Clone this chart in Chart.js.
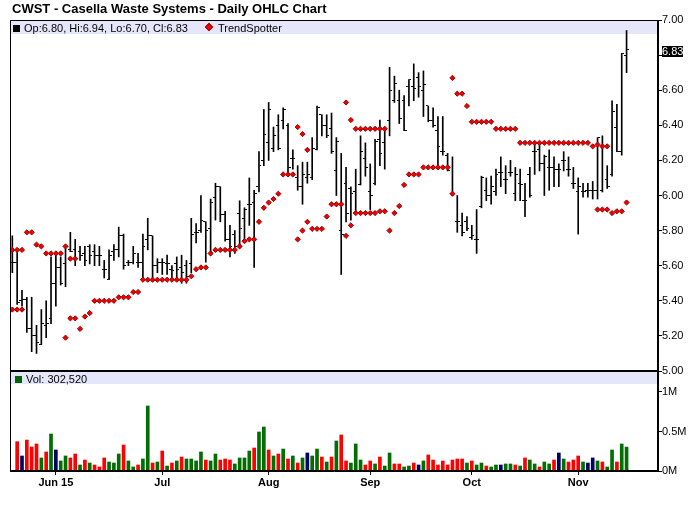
<!DOCTYPE html>
<html>
<head>
<meta charset="utf-8">
<script src="https://cdn.jsdelivr.net/npm/chart.js@4.4.0/dist/chart.umd.min.js"></script>
<style>
  body { margin: 0; width: 700px; height: 512px; background: #fff; position: relative; overflow: hidden;
         font-family: "Liberation Sans", Arial, sans-serif; color: #000; }
  #title { position: absolute; left: 12px; top: 1px; font-weight: bold; font-size: 13px; line-height: 16px; z-index: 3; }
  .band { position: absolute; left: 11px; width: 646px; background: #e6e6fa; z-index: 0; }
  #priceBand { top: 21px; height: 13px; }
  #volBand { top: 372px; height: 12px; }
  .leg { position: absolute; font-size: 11px; line-height: 12px; white-space: nowrap; z-index: 3; }
  .sq { display: inline-block; width: 7px; height: 7px; margin-right: 4px; vertical-align: 0; }
  .dia { display: inline-block; width: 4px; height: 4px; background: #e00; border: 1px solid #a00;
         transform: rotate(45deg); margin: 0 6px 1px 2px; vertical-align: 1px; }
  canvas { position: absolute; left: 0; z-index: 1; }
  #price { top: 0; }
  #vol { top: 371px; }
</style>
</head>
<body>
<div id="title">CWST - Casella Waste Systems - Daily OHLC Chart</div>
<div class="band" id="priceBand"></div>
<div class="band" id="volBand"></div>
<div class="leg" style="left:13px; top:22px;"><span class="sq" style="background:#000"></span>Op:6.80, Hi:6.94, Lo:6.70, Cl:6.83</div>
<div class="leg" style="left:204px; top:22px;"><span class="dia"></span>TrendSpotter</div>
<div class="leg" style="left:15px; top:373px;"><span class="sq" style="background:#006400; border:0"></span>Vol: 302,520</div>
<canvas id="price" width="700" height="380"></canvas>
<canvas id="vol" width="700" height="141"></canvas>
<script>
// daily bars, 18 May 2015 .. 16 Nov 2015 (index 0..127)
const opens = [
  5.62,5.62,5.40,5.41,5.24,5.20,5.15,5.26,5.30,5.50,
  5.59,5.61,5.69,5.69,5.68,5.67,5.71,5.68,5.66,5.58,
  5.52,5.68,5.69,5.77,5.62,5.62,5.62,5.62,5.75,5.77,
  5.60,5.62,5.61,5.58,5.61,5.59,5.60,5.61,5.79,5.80,
  5.85,5.81,5.99,6.05,5.89,5.75,5.78,5.90,5.87,5.95,
  5.96,6.05,6.20,6.30,6.27,6.40,6.43,6.40,6.21,6.10,
  6.05,6.10,6.10,6.26,6.46,6.40,6.38,6.14,5.80,6.07,
  6.04,6.02,6.06,6.21,6.02,6.07,6.32,6.30,6.43,6.54,
  6.54,6.54,6.62,6.62,6.67,6.60,6.51,6.43,6.37,6.25,
  6.23,6.01,5.85,5.83,5.85,5.76,5.75,5.94,6.03,6.00,
  6.02,6.13,6.09,6.13,6.01,6.07,5.97,6.12,6.25,6.26,
  6.18,6.16,6.16,6.15,6.20,6.15,6.07,6.02,6.02,6.03,
  6.03,6.03,6.03,6.09,6.12,6.39,6.25,6.80
];
const highs = [
  5.77,5.69,5.46,5.42,5.42,5.26,5.35,5.40,5.65,5.66,
  5.65,5.71,5.79,5.75,5.71,5.71,5.72,5.72,5.71,5.63,
  5.69,5.72,5.82,5.78,5.63,5.71,5.67,5.78,5.87,5.77,
  5.64,5.64,5.66,5.60,5.65,5.66,5.63,5.87,5.84,6.00,
  5.85,5.98,6.07,6.05,5.91,5.83,5.80,5.97,5.93,6.10,
  6.03,6.25,6.49,6.53,6.39,6.46,6.50,6.41,6.26,6.17,
  6.19,6.19,6.33,6.51,6.46,6.46,6.47,6.33,6.24,6.16,
  6.05,6.15,6.34,6.30,6.18,6.32,6.43,6.39,6.73,6.68,
  6.60,6.57,6.66,6.75,6.70,6.71,6.51,6.50,6.45,6.45,
  6.24,6.22,6.00,5.90,5.88,5.83,5.92,6.11,6.10,6.11,
  6.15,6.22,6.17,6.20,6.16,6.15,6.07,6.16,6.30,6.29,
  6.23,6.26,6.22,6.18,6.25,6.22,6.16,6.10,6.07,6.07,
  6.08,6.33,6.34,6.17,6.54,6.52,6.81,6.94
];
const lows = [
  5.56,5.38,5.37,5.22,5.11,5.10,5.15,5.19,5.27,5.37,
  5.49,5.48,5.68,5.60,5.63,5.60,5.61,5.60,5.60,5.53,
  5.52,5.63,5.65,5.58,5.60,5.61,5.59,5.53,5.69,5.52,
  5.56,5.55,5.55,5.52,5.52,5.50,5.50,5.56,5.73,5.79,
  5.62,5.66,5.86,5.85,5.74,5.65,5.67,5.71,5.75,5.83,
  5.59,6.02,6.17,6.20,6.25,6.26,6.38,6.12,6.15,6.03,
  5.95,6.07,6.09,6.26,6.34,6.33,6.24,6.00,5.55,5.85,
  5.86,5.90,6.06,6.11,5.92,6.06,6.17,6.15,6.34,6.53,
  6.41,6.37,6.51,6.54,6.56,6.45,6.42,6.39,6.16,6.23,
  6.14,6.00,5.79,5.77,5.80,5.75,5.67,5.93,5.97,5.95,
  6.00,6.05,6.01,6.11,5.97,5.97,5.88,5.99,6.12,6.14,
  6.00,6.03,6.05,6.05,6.14,6.11,6.04,5.78,5.99,5.99,
  5.98,5.98,6.02,6.04,6.11,6.25,6.23,6.70
];
const closes = [
  5.62,5.39,5.41,5.24,5.20,5.16,5.27,5.27,5.50,5.59,
  5.50,5.71,5.68,5.64,5.66,5.63,5.66,5.66,5.66,5.58,
  5.66,5.69,5.77,5.60,5.62,5.67,5.62,5.71,5.77,5.60,
  5.62,5.62,5.61,5.57,5.58,5.56,5.54,5.78,5.79,5.86,
  5.80,5.96,6.05,5.89,5.75,5.71,5.71,5.81,5.92,5.95,
  6.01,6.17,6.35,6.49,6.34,6.27,6.49,6.16,6.21,6.05,
  6.12,6.12,6.27,6.50,6.40,6.34,6.25,6.31,5.78,5.90,
  6.01,5.90,6.25,6.16,6.00,6.31,6.24,6.38,6.60,6.64,
  6.44,6.37,6.66,6.61,6.62,6.63,6.43,6.40,6.28,6.25,
  6.14,6.01,5.85,5.79,5.81,5.77,5.75,6.10,6.00,6.05,
  6.12,6.13,6.09,6.13,6.12,6.06,5.97,6.00,6.25,6.18,
  6.22,6.16,6.15,6.15,6.20,6.15,6.07,6.05,6.02,6.03,
  6.03,6.33,6.28,6.05,6.48,6.25,6.81,6.83
];
// TrendSpotter stops: upper (above price) and lower (below price)
const trendUpper = [
  5.69,5.69,5.69,5.79,5.79,5.72,5.71,5.67,5.67,5.67,
  5.67,5.71,5.64,5.64,null,null,null,null,null,null,
  null,null,null,null,null,null,null,null,null,null,
  null,null,null,null,null,null,null,null,null,null,
  null,null,null,null,null,null,null,null,null,null,
  null,null,null,null,null,null,null,null,null,6.39,
  6.35,6.26,null,null,null,null,null,null,null,6.53,
  6.43,6.38,6.38,6.38,6.38,6.38,6.38,6.38,null,null,
  null,null,null,null,null,null,null,null,null,null,
  null,6.67,6.58,6.58,6.51,6.42,6.42,6.42,6.42,6.42,
  6.38,6.38,6.38,6.38,6.38,6.30,6.30,6.30,6.30,6.30,
  6.30,6.30,6.30,6.30,6.30,6.30,6.30,6.30,6.30,6.30,
  6.28,6.29,6.28,6.28,null,null,null,null
];
const trendLower = [
  5.35,5.35,5.35,null,null,null,null,null,null,null,
  null,5.19,5.30,5.30,5.24,5.31,5.33,5.40,5.40,5.40,
  5.40,5.40,5.42,5.42,5.42,5.45,5.45,5.52,5.52,5.52,
  5.52,5.52,5.52,5.52,5.52,5.52,5.52,5.54,5.58,5.59,
  5.59,5.67,5.69,5.69,5.69,5.69,5.69,5.71,5.74,5.75,
  5.75,5.85,5.93,5.96,5.98,6.01,6.12,6.12,6.12,5.75,
  5.80,5.85,5.81,5.81,5.81,5.88,5.95,5.95,5.95,5.77,
  5.83,5.90,5.90,5.90,5.90,5.90,5.91,5.91,5.80,5.90,
  5.94,6.06,6.12,6.12,6.12,6.16,6.16,6.16,6.16,6.16,
  6.16,6.01,null,null,null,null,null,null,null,null,
  null,null,null,null,null,null,null,null,null,null,
  null,null,null,null,null,null,null,null,null,null,
  null,5.92,5.92,5.92,5.90,5.91,5.91,5.96
];
// volume in thousands of shares
const volumeK = [
  null,371,190,392,304,342,165,241,468,266,
  127,190,165,215,76,139,101,76,51,165,
  114,101,215,329,127,51,76,152,823,101,
  114,253,63,101,127,177,152,152,127,241,
  139,127,215,139,152,139,89,165,165,253,
  291,494,557,266,190,215,278,152,190,101,
  165,228,190,278,177,114,177,380,456,127,
  101,342,139,76,127,89,177,63,228,89,
  89,51,63,101,76,127,203,139,76,127,
  76,139,152,152,101,127,76,101,63,51,
  76,76,89,89,76,63,165,139,89,51,
  114,89,139,228,152,114,139,190,114,101,
  165,127,114,51,266,114,342,302.52
];
// u = up day, d = down day, n = unchanged
const volumeDir = ('x' +
  'dndddudunu' + 'uddududddu' + 'uuduuduudu' + 'dududuuuud' +
  'uuddduuuud' + 'uududududu' + 'nuudududdu' + 'uudduduudd' +
  'uudnuddddd' + 'ddduduuduu' + 'nuududuudu' + 'udnudddunn' +
  'uduuduu').split('');
const monthTickIdx = [9, 31, 53, 74, 95, 117];
const monthTickLabels = ['Jun 15', 'Jul', 'Aug', 'Sep', 'Oct', 'Nov'];

const xMin = -0.48, xMax = 133.5;
const idx = opens.map((_, i) => i);
const last = closes.length - 1;
const dirColor = { u: '#006e00', d: '#ff0000', n: '#000066', x: '#000' };
const axisFont = { family: 'Liberation Sans', size: 11 };

function tickImage(side) {
  const c = document.createElement('canvas');
  c.width = 5; c.height = 1;
  const g = c.getContext('2d');
  g.fillStyle = '#000';
  g.fillRect(side < 0 ? 0 : 3, 0, 2, 1);
  return c;
}

const framePlugin = {
  id: 'frame',
  afterDraw(chart) {
    const { ctx, chartArea: a } = chart;
    ctx.save();
    ctx.strokeStyle = '#000';
    ctx.lineWidth = 1;
    ctx.strokeRect(a.left + 0.5, a.top + 0.5, a.right - a.left - 1, a.bottom - a.top - 1);
    ctx.restore();
  }
};

const lastPricePlugin = {
  id: 'lastPrice',
  afterDraw(chart) {
    const { ctx, chartArea: a } = chart;
    const y = chart.scales.y.getPixelForValue(closes[last]);
    ctx.save();
    ctx.fillStyle = '#000';
    ctx.fillRect(a.right + 4, Math.round(y) - 4, 21, 11);
    ctx.fillStyle = '#fff';
    ctx.font = '11px "Liberation Sans"';
    ctx.textBaseline = 'middle';
    ctx.fillText(closes[last].toFixed(2), a.right + 4, Math.round(y) + 2);
    ctx.restore();
  }
};

const trendPoints = [];
idx.forEach(i => {
  if (trendUpper[i] != null) trendPoints.push({ x: i, y: trendUpper[i] });
  if (trendLower[i] != null) trendPoints.push({ x: i, y: trendLower[i] });
});

new Chart(document.getElementById('price'), {
  type: 'bar',
  data: {
    datasets: [
      {
        type: 'scatter',
        label: 'TrendSpotter',
        data: trendPoints,
        pointStyle: 'rectRot',
        pointRadius: 2.6,
        backgroundColor: '#ee0000',
        borderColor: '#a00000',
        borderWidth: 1,
        order: 0
      },
      {
        type: 'scatter',
        label: 'open',
        data: idx.map(i => ({ x: i, y: opens[i] })),
        pointStyle: tickImage(-1),
        pointRadius: 2,
        order: 1
      },
      {
        type: 'scatter',
        label: 'close',
        data: idx.map(i => ({ x: i, y: closes[i] })),
        pointStyle: tickImage(1),
        pointRadius: 2,
        order: 1
      },
      {
        type: 'bar',
        label: 'range',
        data: idx.map(i => ({ x: i, y: [lows[i], highs[i]] })),
        backgroundColor: '#000',
        barThickness: 1,
        grouped: false,
        order: 2
      }
    ]
  },
  options: {
    responsive: false,
    animation: false,
    devicePixelRatio: 1,
    layout: { padding: { left: 10, top: 20, right: 0, bottom: 9 } },
    plugins: { legend: { display: false }, tooltip: { enabled: false } },
    scales: {
      x: { type: 'linear', min: xMin, max: xMax, offset: false, display: false },
      y: {
        position: 'right',
        min: 5, max: 7,
        afterFit: s => { s.width = 42; },
        ticks: {
          stepSize: 0.2,
          padding: 0,
          color: '#000',
          font: axisFont,
          callback: v => Math.abs(v - closes[last]) < 0.05 ? '' : v.toFixed(2)
        },
        grid: { drawOnChartArea: false, drawTicks: true, tickLength: 4, color: '#000' },
        border: { color: '#000' }
      }
    }
  },
  plugins: [framePlugin, lastPricePlugin]
});

new Chart(document.getElementById('vol'), {
  type: 'bar',
  data: {
    datasets: [{
      label: 'Vol',
      data: idx.map(i => ({ x: i, y: volumeK[i] })),
      backgroundColor: idx.map(i => dirColor[volumeDir[i]]),
      barThickness: 3
    }]
  },
  options: {
    responsive: false,
    animation: false,
    devicePixelRatio: 1,
    layout: { padding: { left: 10, top: 0, right: 0, bottom: 0 } },
    plugins: { legend: { display: false }, tooltip: { enabled: false } },
    scales: {
      x: {
        type: 'linear', min: xMin, max: xMax, offset: false,
        afterFit: s => { s.height = 41; s.paddingLeft = 0; s.paddingRight = 0; },
        afterBuildTicks: s => { s.ticks = monthTickIdx.map(v => ({ value: v })); },
        ticks: {
          autoSkip: false, maxRotation: 0, padding: 1, color: '#000',
          font: { family: 'Liberation Sans', size: 11, weight: 'bold' },
          callback: (v, i) => monthTickLabels[i]
        },
        grid: { offset: false, drawOnChartArea: false, drawTicks: true, tickLength: 4, color: '#000' },
        border: { color: '#000' }
      },
      y: {
        position: 'right',
        min: 0, max: 1265.8,
        afterFit: s => { s.width = 42; s.paddingTop = 0; s.paddingBottom = 0; },
        afterBuildTicks: s => { s.ticks = [0, 500, 1000].map(v => ({ value: v })); },
        ticks: {
          padding: 0, color: '#000', font: axisFont,
          callback: v => (v / 1000) + 'M'
        },
        grid: { drawOnChartArea: false, drawTicks: true, tickLength: 4, color: '#000' },
        border: { color: '#000' }
      }
    }
  },
  plugins: [framePlugin]
});
</script>
</body>
</html>
